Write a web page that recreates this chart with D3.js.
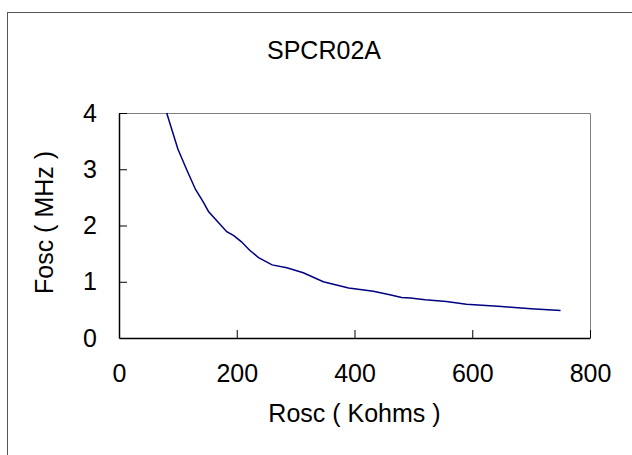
<!DOCTYPE html>
<html>
<head>
<meta charset="utf-8">
<script src="https://cdn.jsdelivr.net/npm/d3@7"></script>
<style>
  body { margin: 0; background: #fff; }
  svg { display: block; font-family: "Liberation Sans", Arial, sans-serif; }
</style>
</head>
<body>
<div id="chart"></div>
<script>
// Rosc (kohm) vs Fosc (MHz)
const rosc = [81, 100, 115, 130, 143, 152, 170, 183, 195, 208, 222, 237, 260, 285, 313, 347, 390, 432, 460, 480, 495, 520, 556, 590, 650, 700, 750];
const fosc = [4.0, 3.36, 2.99, 2.64, 2.42, 2.25, 2.04, 1.89, 1.82, 1.71, 1.56, 1.43, 1.30, 1.25, 1.16, 1.00, 0.89, 0.83, 0.77, 0.72, 0.71, 0.68, 0.65, 0.60, 0.56, 0.52, 0.49];
const xTicks = [0, 200, 400, 600, 800];
const yTicks = [0, 1, 2, 3, 4];

const W = 632, H = 455;
const margin = { top: 113, right: 42, bottom: 117, left: 119 }; // plot area inside the chart box
const width = W - margin.left - margin.right;
const height = H - margin.top - margin.bottom;

const root = d3.select("#chart").append("svg")
    .attr("width", W)
    .attr("height", H);

// outer chart border (runs off the right and bottom edges)
root.append("rect")
    .attr("x", 7.5).attr("y", 12.5)
    .attr("width", 660).attr("height", 480)
    .attr("fill", "#fff")
    .attr("stroke", "#555");

root.append("text")
    .attr("x", 324).attr("y", 59)
    .attr("text-anchor", "middle")
    .style("font-size", "25px")
    .text("SPCR02A");

const svg = root.append("g")
    .attr("transform", `translate(${margin.left},${margin.top})`);

const x = d3.scaleLinear().domain([0, 800]).range([0, width]);
const y = d3.scaleLinear().domain([0, 4]).range([height, 0]);

// gray top/right plot border
svg.append("path")
    .attr("d", `M0,0.5H${width + 0.5}V${height}`)
    .attr("fill", "none")
    .attr("stroke", "#808080");

const xAxis = svg.append("g")
    .attr("transform", `translate(0,${height})`)
    .call(d3.axisBottom(x).tickValues(xTicks).tickFormat(d3.format("d"))
        .tickSize(-8).tickPadding(26).tickSizeOuter(0));
xAxis.selectAll("text").style("font-size", "25px").attr("fill", "#000");

const yAxis = svg.append("g")
    .call(d3.axisLeft(y).tickValues(yTicks).tickFormat(d3.format("d"))
        .tickSize(-8).tickPadding(22).tickSizeOuter(0));
yAxis.selectAll("text").style("font-size", "25px").attr("fill", "#000");

svg.selectAll(".domain").attr("stroke", "#000").attr("stroke-width", 1.5);
svg.selectAll(".tick line").attr("stroke", "#000");
yAxis.selectAll(".tick").filter(d => d === 0).select("line").remove();
xAxis.selectAll(".tick").filter(d => d === 0).select("line").remove();

const pts = rosc.map((r, i) => [r, fosc[i]]);
svg.append("path")
    .datum(pts)
    .attr("fill", "none")
    .attr("stroke", "#000080")
    .attr("stroke-width", 1.5)
    .attr("d", d3.line().x(d => x(d[0])).y(d => y(d[1])));

svg.append("text")
    .attr("x", width / 2).attr("y", height + 84)
    .attr("text-anchor", "middle")
    .style("font-size", "25px")
    .text("Rosc ( Kohms )");

svg.append("text")
    .attr("transform", `translate(-66,${height / 2 - 3}) rotate(-90)`)
    .attr("text-anchor", "middle")
    .style("font-size", "25px")
    .text("Fosc ( MHz )");
</script>
</body>
</html>
